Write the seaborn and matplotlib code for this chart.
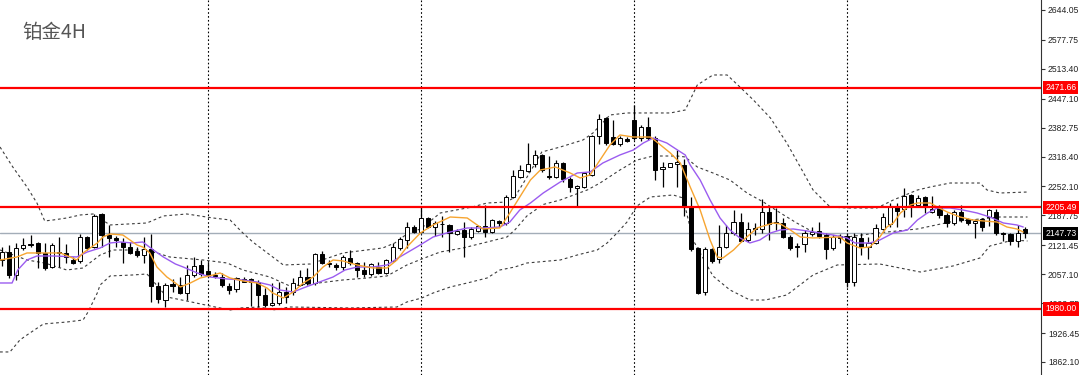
import matplotlib
matplotlib.use("Agg")
import matplotlib.pyplot as plt
import matplotlib.transforms as mtransforms
import numpy as np
import pandas as pd
import seaborn as sns

# 4H candles (index 0 = leftmost bar)
opens = [2088.7, 2107.2, 2055.4, 2114.6, 2123.5, 2127.2, 2105.0, 2073.9, 2103.5, 2105.0,
         2088.7, 2087.2, 2140.5, 2118.3, 2190.2, 2145.0, 2138.3, 2128.0, 2118.3, 2108.7,
         2099.8, 2113.2, 2031.7, 1999.9, 2034.7, 2033.2, 2016.1, 2055.4, 2077.6, 2065.0,
         2055.4, 2051.7, 2031.0, 2023.6, 2045.8, 2045.8, 2040.6, 2011.0, 1988.7, 1992.4,
         2018.4, 2018.4, 2033.2, 2050.2, 2036.9, 2101.3, 2082.0, 2077.6, 2073.9, 2093.9,
         2081.3, 2066.5, 2057.6, 2073.9, 2059.1, 2087.2, 2114.6, 2133.1, 2162.8, 2151.6,
         2182.8, 2162.8, 2169.4, 2166.5, 2146.5, 2155.4, 2140.5, 2153.9, 2164.3, 2151.6,
         2176.1, 2170.2, 2227.9, 2273.8, 2287.2, 2301.2, 2321.2, 2276.0, 2273.8, 2305.0,
         2267.9, 2247.9, 2251.6, 2277.5, 2364.2, 2403.4, 2362.7, 2346.4, 2357.5, 2399.7,
         2359.0, 2384.9, 2359.0, 2290.1, 2296.0, 2301.2, 2299.7, 2205.7, 2114.6, 2018.4,
         2112.4, 2090.2, 2116.9, 2148.0, 2173.9, 2133.1, 2159.8, 2156.8, 2196.1, 2170.2,
         2171.7, 2140.5, 2119.8, 2124.3, 2146.5, 2153.9, 2144.3, 2114.6, 2142.0, 2142.0,
         2040.6, 2136.9, 2118.3, 2127.2, 2157.6, 2168.7, 2207.2, 2201.3, 2233.1, 2210.9,
         2229.4, 2196.1, 2203.5, 2188.7, 2170.2, 2196.1, 2179.1, 2170.2, 2179.1, 2185.0,
         2196.1, 2148.0, 2145.7, 2131.7, 2156.8]
highs = [2118.3, 2122.0, 2125.7, 2136.9, 2144.3, 2129.4, 2125.7, 2125.7, 2140.5, 2124.3,
         2096.1, 2146.5, 2142.0, 2190.9, 2192.4, 2166.5, 2142.0, 2136.9, 2129.4, 2118.3,
         2140.5, 2146.5, 2039.1, 2036.9, 2045.8, 2051.7, 2077.6, 2096.1, 2088.7, 2085.0,
         2062.8, 2059.1, 2036.9, 2051.7, 2051.7, 2048.0, 2044.3, 2025.8, 2036.9, 2040.6,
         2029.5, 2048.0, 2066.5, 2070.2, 2103.5, 2108.7, 2088.7, 2082.8, 2099.8, 2110.9,
         2085.0, 2085.0, 2082.8, 2085.0, 2090.2, 2127.2, 2140.5, 2173.9, 2166.5, 2205.7,
         2185.0, 2176.1, 2187.2, 2168.7, 2156.8, 2173.9, 2162.8, 2166.5, 2210.9, 2179.1,
         2177.6, 2233.1, 2288.7, 2299.7, 2349.4, 2333.1, 2324.2, 2319.7, 2310.8, 2307.2,
         2272.4, 2255.3, 2285.0, 2366.4, 2413.1, 2405.6, 2399.7, 2364.2, 2362.7, 2433.0,
         2388.6, 2405.6, 2364.2, 2307.2, 2305.0, 2333.1, 2312.3, 2229.4, 2118.3, 2118.3,
         2114.6, 2166.5, 2166.5, 2199.8, 2193.9, 2173.9, 2170.2, 2223.5, 2207.2, 2203.5,
         2181.3, 2144.3, 2125.7, 2155.4, 2162.8, 2173.9, 2148.0, 2144.3, 2146.5, 2148.0,
         2149.4, 2149.4, 2140.5, 2168.7, 2192.4, 2216.1, 2216.1, 2247.9, 2235.3, 2233.1,
         2230.9, 2230.9, 2210.9, 2192.4, 2199.8, 2210.9, 2181.3, 2179.1, 2181.3, 2201.3,
         2201.3, 2151.6, 2149.4, 2166.5, 2162.8]
lows = [2075.4, 2048.0, 2044.3, 2110.9, 2118.3, 2070.2, 2066.5, 2070.2, 2073.9, 2081.3,
        2079.8, 2082.8, 2110.9, 2116.1, 2118.3, 2096.1, 2118.3, 2082.8, 2101.3, 2096.1,
        2082.8, 1996.2, 1993.9, 1985.0, 2018.4, 2013.2, 1999.9, 2051.7, 2053.2, 2050.2,
        2048.0, 2029.5, 2013.2, 2018.4, 2039.8, 1986.5, 1985.0, 1985.0, 1986.5, 1988.7,
        1992.4, 2011.0, 2031.0, 2033.2, 2033.2, 2079.8, 2073.9, 2066.5, 2066.5, 2077.6,
        2050.2, 2050.2, 2053.2, 2057.6, 2057.6, 2085.0, 2110.9, 2114.6, 2148.0, 2148.0,
        2159.1, 2142.0, 2140.5, 2107.2, 2144.3, 2094.6, 2134.6, 2150.2, 2140.5, 2148.0,
        2162.8, 2166.5, 2225.7, 2270.1, 2285.0, 2296.0, 2285.0, 2267.9, 2270.1, 2262.7,
        2240.5, 2208.7, 2247.9, 2275.3, 2346.4, 2344.2, 2344.2, 2342.0, 2351.6, 2355.3,
        2353.8, 2355.3, 2266.4, 2251.6, 2294.6, 2250.1, 2186.5, 2109.5, 2013.2, 2011.0,
        2082.8, 2081.3, 2114.6, 2144.3, 2129.4, 2129.4, 2144.3, 2148.0, 2133.1, 2155.4,
        2136.9, 2110.9, 2094.6, 2107.2, 2142.8, 2136.9, 2090.2, 2110.9, 2125.7, 2029.5,
        2031.0, 2099.8, 2090.2, 2124.3, 2155.4, 2162.8, 2162.8, 2185.0, 2185.0, 2208.7,
        2192.4, 2193.9, 2181.3, 2162.8, 2166.5, 2173.9, 2166.5, 2136.9, 2153.1, 2164.3,
        2144.3, 2131.7, 2122.0, 2118.3, 2136.9]
closes = [2107.2, 2055.4, 2116.1, 2122.0, 2121.3, 2105.0, 2070.2, 2122.0, 2107.2, 2096.1,
          2082.8, 2140.5, 2114.6, 2187.2, 2144.3, 2138.3, 2133.1, 2118.3, 2105.0, 2099.8,
          2113.2, 2031.0, 2001.3, 2033.2, 2031.7, 2014.7, 2055.4, 2076.1, 2057.6, 2053.2,
          2054.0, 2033.2, 2022.1, 2048.0, 2040.6, 2039.1, 2011.0, 1988.7, 1992.4, 2018.4,
          2007.3, 2036.9, 2050.2, 2036.9, 2101.3, 2082.8, 2080.6, 2073.9, 2094.6, 2082.8,
          2066.5, 2057.6, 2079.1, 2059.1, 2088.7, 2116.9, 2134.6, 2161.3, 2150.2, 2181.3,
          2161.3, 2170.2, 2168.0, 2148.0, 2153.9, 2140.5, 2156.8, 2164.3, 2151.6, 2177.6,
          2170.2, 2227.9, 2275.3, 2288.7, 2301.2, 2322.0, 2288.7, 2273.8, 2303.5, 2267.9,
          2250.1, 2253.1, 2282.7, 2364.2, 2401.2, 2347.9, 2346.4, 2359.0, 2353.1, 2359.0,
          2384.9, 2359.0, 2288.7, 2296.0, 2303.5, 2305.7, 2205.7, 2112.4, 2016.1, 2112.4,
          2087.2, 2116.9, 2148.0, 2173.9, 2131.7, 2156.8, 2158.4, 2196.1, 2168.7, 2173.9,
          2140.5, 2114.6, 2116.9, 2148.0, 2151.6, 2142.0, 2112.4, 2140.5, 2138.3, 2040.6,
          2139.1, 2118.3, 2127.2, 2159.1, 2185.0, 2207.2, 2198.3, 2231.6, 2207.2, 2227.2,
          2207.2, 2201.3, 2188.7, 2170.2, 2196.1, 2177.6, 2170.2, 2176.1, 2162.8, 2199.8,
          2148.0, 2145.7, 2131.7, 2149.4, 2147.73]

# indicator lines: (bar index, price)
bb_upper = [(-0.3, 2339.7), (1.5, 2295.3), (3.5, 2250.9), (4.9, 2215.3), (6.0, 2175.4), (7.2, 2177.6),
            (9.1, 2182.0), (11.0, 2188.7), (12.8, 2190.9), (15.2, 2166.5), (20.4, 2170.9), (22.7, 2186.5),
            (26.0, 2190.9), (29.7, 2182.0), (32.1, 2177.6), (33.9, 2148.7), (35.3, 2128.7), (39.6, 2077.6),
            (43.4, 2079.8), (48.0, 2104.3), (53.6, 2115.4), (55.3, 2126.5), (57.0, 2146.5), (58.9, 2157.6),
            (61.7, 2193.1), (66.2, 2206.4), (68.3, 2215.3), (71.1, 2217.5), (72.2, 2228.7), (74.1, 2277.5),
            (76.0, 2328.6), (78.6, 2339.7), (81.8, 2355.3), (83.2, 2370.8), (85.6, 2410.8), (88.0, 2415.3),
            (94.1, 2415.3), (96.2, 2421.9), (97.9, 2477.5), (100.1, 2499.7), (102.1, 2499.7), (103.9, 2473.0),
            (105.8, 2444.1), (108.2, 2404.1), (110.5, 2348.6), (112.4, 2295.3), (114.2, 2244.2), (116.6, 2206.4),
            (119.0, 2204.2), (123.2, 2204.2), (125.5, 2222.0), (128.9, 2244.2), (130.7, 2250.9), (133.5, 2259.7),
            (137.7, 2259.7), (138.7, 2244.2), (140.5, 2237.5), (144.4, 2239.7)]
bb_middle = [(-0.3, 2110.9), (3.5, 2088.7), (6.0, 2082.0), (9.1, 2066.5), (11.4, 2070.9), (13.8, 2099.8),
             (15.6, 2110.9), (19.8, 2110.9), (21.8, 2104.3), (23.6, 2095.4), (28.3, 2088.7), (31.7, 2082.0),
             (33.9, 2066.5), (37.7, 2050.9), (40.5, 2031.0), (43.4, 2035.4), (48.0, 2044.3), (51.4, 2048.7),
             (54.2, 2053.2), (57.0, 2077.6), (59.1, 2090.9), (61.7, 2106.5), (64.9, 2115.4), (68.3, 2128.7),
             (71.1, 2139.8), (72.2, 2155.4), (73.9, 2186.5), (76.2, 2212.0), (78.6, 2222.0), (82.4, 2244.2),
             (84.2, 2259.7), (87.0, 2288.6), (89.4, 2310.8), (91.7, 2319.7), (95.1, 2319.7), (96.2, 2317.5),
             (97.9, 2295.3), (100.1, 2282.0), (102.5, 2266.4), (104.9, 2237.5), (107.2, 2217.5), (109.6, 2193.1),
             (111.9, 2170.9), (114.2, 2150.9), (116.6, 2144.2), (119.0, 2139.8), (123.2, 2148.7), (128.9, 2157.6),
             (133.5, 2173.1), (140.5, 2184.2), (144.4, 2184.2)]
bb_lower = [(-0.3, 1884.4), (1.1, 1884.4), (2.5, 1911.0), (3.5, 1922.1), (5.8, 1946.5), (9.1, 1950.9),
            (11.4, 1955.4), (12.1, 1973.2), (13.4, 2015.4), (13.8, 2033.2), (15.2, 2053.2), (18.4, 2055.4),
            (20.4, 2057.6), (23.2, 2006.5), (26.0, 1997.6), (29.3, 1986.5), (32.1, 1977.6), (33.5, 1982.1),
            (36.3, 1984.3), (38.1, 1977.6), (40.5, 1984.3), (49.0, 1982.1), (55.6, 1984.3), (57.0, 1995.4),
            (59.1, 2004.3), (60.7, 2015.4), (63.1, 2028.7), (65.5, 2037.6), (68.3, 2048.7), (70.1, 2066.5),
            (72.2, 2073.1), (73.9, 2082.0), (78.6, 2088.7), (81.0, 2099.8), (83.8, 2110.9), (85.2, 2126.5),
            (86.6, 2148.7), (88.0, 2173.1), (89.4, 2208.7), (91.3, 2228.7), (94.5, 2233.1), (95.9, 2226.4),
            (97.3, 2133.1), (98.7, 2093.1), (100.1, 2053.2), (102.5, 2022.1), (105.3, 1999.8), (107.5, 1999.8),
            (110.5, 2011.0), (114.2, 2055.4), (117.6, 2077.6), (123.6, 2079.8), (129.3, 2062.0), (133.9, 2075.4),
            (137.7, 2093.1), (139.1, 2119.8), (142.4, 2133.1), (144.4, 2130.9)]
ma_fast = [(-0.3, 2088.7), (2.1, 2095.4), (3.5, 2104.3), (8.2, 2104.3), (9.6, 2095.4), (10.5, 2088.7),
           (11.4, 2104.3), (12.4, 2115.4), (13.4, 2126.5), (14.2, 2139.8), (15.2, 2146.5), (17.0, 2144.2),
           (18.0, 2133.1), (19.0, 2122.0), (19.8, 2117.6), (20.8, 2104.3), (21.8, 2073.1), (23.2, 2050.9),
           (24.4, 2037.6), (25.1, 2028.7), (26.5, 2037.6), (27.9, 2048.7), (29.7, 2055.4), (30.7, 2059.8),
           (32.1, 2048.7), (33.9, 2042.1), (35.9, 2037.6), (37.3, 2026.5), (38.1, 2015.4), (39.6, 2004.3),
           (41.0, 2017.6), (42.4, 2037.6), (43.8, 2050.9), (45.2, 2073.1), (46.6, 2088.7), (48.0, 2086.5),
           (50.0, 2077.6), (52.2, 2070.9), (54.2, 2070.9), (55.6, 2088.7), (57.0, 2117.6), (58.9, 2148.7),
           (60.7, 2166.5), (63.1, 2184.2), (65.5, 2182.0), (67.7, 2157.6), (70.1, 2159.8), (71.5, 2193.1),
           (72.9, 2228.7), (74.4, 2266.4), (75.8, 2288.6), (77.9, 2295.3), (80.0, 2282.0), (81.4, 2270.9),
           (82.8, 2277.5), (84.2, 2310.8), (85.6, 2344.2), (87.0, 2366.4), (88.9, 2361.9), (91.3, 2361.9),
           (92.2, 2350.8), (94.1, 2326.4), (95.5, 2304.2), (96.9, 2250.9), (98.3, 2199.8), (99.7, 2133.1),
           (100.7, 2095.4), (101.5, 2093.1), (103.0, 2110.9), (104.4, 2133.1), (106.3, 2159.8), (108.6, 2170.9),
           (109.6, 2168.7), (111.0, 2155.4), (112.4, 2139.8), (114.2, 2137.6), (118.0, 2139.8), (119.0, 2126.5),
           (120.8, 2115.4), (122.2, 2117.6), (123.6, 2139.8), (124.6, 2162.0), (125.5, 2170.9), (126.5, 2193.1),
           (127.9, 2210.9), (128.9, 2215.3), (130.7, 2215.3), (131.7, 2206.4), (133.1, 2195.3), (134.9, 2184.2),
           (136.7, 2177.6), (138.2, 2175.4), (140.1, 2173.1), (141.5, 2162.0), (142.9, 2157.6), (143.8, 2150.9)]
ma_slow = [(-0.3, 2037.6), (1.4, 2037.6), (2.2, 2066.5), (3.5, 2088.7), (4.9, 2097.6), (7.2, 2097.6),
           (10.5, 2095.4), (12.0, 2106.5), (13.8, 2115.4), (15.2, 2126.5), (16.6, 2128.7), (18.4, 2126.5),
           (19.8, 2128.7), (21.3, 2110.9), (22.7, 2095.4), (24.4, 2079.8), (25.5, 2073.1), (27.5, 2059.8),
           (29.3, 2050.9), (31.7, 2046.5), (33.9, 2044.3), (35.9, 2039.8), (37.7, 2033.2), (39.1, 2022.1),
           (41.0, 2017.6), (42.4, 2026.5), (44.3, 2037.6), (46.6, 2050.9), (48.3, 2066.5), (50.0, 2073.1),
           (52.2, 2073.1), (54.2, 2077.6), (56.0, 2095.4), (58.4, 2117.6), (60.7, 2139.8), (63.1, 2150.9),
           (65.5, 2159.8), (67.7, 2159.8), (70.1, 2162.0), (71.5, 2173.1), (72.9, 2199.8), (74.4, 2215.3),
           (76.2, 2237.5), (78.6, 2262.0), (81.0, 2282.0), (82.8, 2284.2), (84.6, 2304.2), (87.0, 2322.0),
           (88.9, 2333.1), (90.3, 2348.6), (91.7, 2359.7), (93.6, 2348.6), (95.1, 2333.1), (96.2, 2322.0),
           (96.9, 2299.7), (98.3, 2266.4), (99.7, 2222.0), (101.1, 2182.0), (102.5, 2155.4), (103.9, 2137.6),
           (105.3, 2126.5), (106.7, 2133.1), (108.2, 2148.7), (109.6, 2155.4), (111.4, 2157.6), (113.4, 2153.1),
           (115.2, 2148.7), (117.0, 2144.2), (119.0, 2137.6), (120.1, 2126.5), (122.2, 2126.5), (123.6, 2133.1),
           (125.5, 2148.7), (127.5, 2155.4), (128.9, 2177.6), (130.3, 2193.1), (131.7, 2204.2), (133.5, 2204.2),
           (135.3, 2199.8), (137.3, 2193.1), (139.1, 2184.2), (141.0, 2170.9), (142.9, 2166.5), (143.8, 2162.0)]

levels = [2471.66, 2205.49, 1980.00]
last_price = 2147.73
separators = [29, 59, 89, 119]
price_ticks = [2644.05, 2577.75, 2513.40, 2447.10, 2382.75, 2318.40, 2252.10,
               2187.75, 2121.45, 2057.10, 1992.75, 1926.45, 1862.10]

sns.set_theme(style="white")
plt.rcParams['font.family'] = ['Liberation Sans', 'DejaVu Sans']

fig = plt.figure(figsize=(10.8, 3.75), dpi=100)
ax = fig.add_axes([0, 0, 1041 / 1080, 1])

df = pd.DataFrame({"o": opens, "h": highs, "l": lows, "c": closes})
df["i"] = np.arange(len(df))
up = df["c"] >= df["o"]

# bands and moving averages
for pts in (bb_upper, bb_middle, bb_lower):
    b = pd.DataFrame(pts, columns=["x", "y"])
    sns.lineplot(data=b, x="x", y="y", ax=ax, color="#3c3c3c", lw=0.8,
                 linestyle=(0, (2.5, 2.5)), sort=False, estimator=None, zorder=2)
sns.lineplot(data=pd.DataFrame(ma_slow, columns=["x", "y"]), x="x", y="y", ax=ax,
             color="#9b5cf0", lw=1.0, sort=False, estimator=None, zorder=4)
sns.lineplot(data=pd.DataFrame(ma_fast, columns=["x", "y"]), x="x", y="y", ax=ax,
             color="#f7a531", lw=1.0, sort=False, estimator=None, zorder=4)

# candles
ax.vlines(df["i"], df["l"], df["h"], color="black", lw=0.9, zorder=3)
body_lo = np.minimum(df["o"], df["c"])
body_h = np.maximum(np.abs(df["c"] - df["o"]), 1.3)
ax.bar(df["i"], body_h, bottom=body_lo, width=0.58,
       color=np.where(up, "white", "black"), edgecolor="black", linewidth=0.7, zorder=3)

# period separators
for s in separators:
    ax.axvline(s, color="black", lw=0.8, linestyle=(0, (1.5, 2)), zorder=1)

# horizontal levels
ax.axhline(last_price, color="#a3adb8", lw=1.0, zorder=1)
for lv in levels:
    ax.axhline(lv, color="#ff0000", lw=1.6, zorder=5)

ax.set_xlim(-0.3, 146.3)
ax.set_ylim(1833.2, 2666.26)
ax.set_xlabel("")
ax.set_ylabel("")
ax.set_xticks([])
ax.yaxis.tick_right()
ax.set_yticks(price_ticks)
ax.set_yticklabels([f"{v:.2f}" for v in price_ticks])
ax.tick_params(axis="y", right=True, length=3, width=0.8, color="#333333",
               labelsize=6.2, pad=2, labelcolor="#222222")
for side in ("left", "top", "bottom"):
    ax.spines[side].set_visible(False)
ax.spines["right"].set_color("#333333")
ax.spines["right"].set_linewidth(0.8)

# price tags on the scale
trans = mtransforms.blended_transform_factory(ax.transAxes, ax.transData)
for lv in levels:
    ax.text(1.004, lv, f"{lv:.2f}", transform=trans, ha="left", va="center",
            fontsize=6.2, color="white", clip_on=False, zorder=10,
            bbox=dict(boxstyle="square,pad=0.25", facecolor="#ff0000", edgecolor="none"))
ax.text(1.004, last_price, f"{last_price:.2f}", transform=trans, ha="left", va="center",
        fontsize=6.2, color="white", clip_on=False, zorder=10,
        bbox=dict(boxstyle="square,pad=0.25", facecolor="black", edgecolor="none"))

ax.text(0.021, 0.912, "铂金4H", transform=ax.transAxes, ha="left", va="center",
        fontsize=14, color="#555555", family=["Noto Sans CJK SC", "DejaVu Sans"])

fig.savefig("out.png", dpi=100)
